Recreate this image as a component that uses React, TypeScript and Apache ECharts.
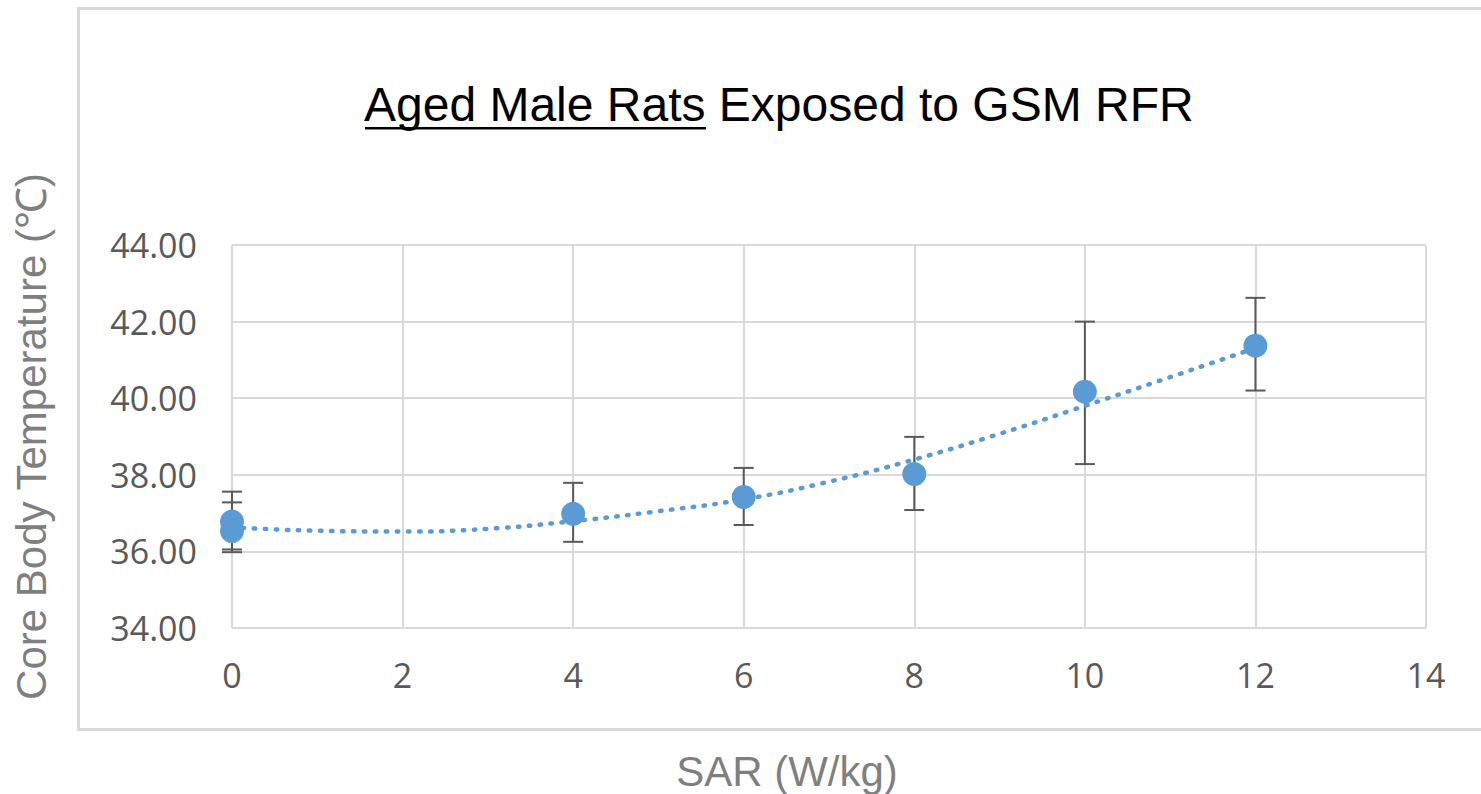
import React, { useEffect, useRef } from "react";
import * as echarts from "echarts";

const titleUnderlined = "Aged Male Rats";
const titleRest = " Exposed to GSM RFR";
const xAxisTitle = "SAR (W/kg)";
const yAxisTitle = "Core Body Temperature (℃)";

const sarValues = [0, 0, 4, 6, 8, 10, 12];
const meanTemps = [36.53, 36.78, 36.98, 37.42, 38.02, 40.17, 41.37];
const errLow = [36.05, 35.98, 36.25, 36.69, 37.08, 38.28, 40.2];
const errHigh = [37.28, 37.56, 37.79, 38.18, 38.99, 42.0, 42.62];

const trendX = [0, 1, 2, 3, 4, 5, 6, 7, 8, 9, 10, 11, 12];
const trendY = [36.63, 36.54, 36.52, 36.59, 36.79, 37.05, 37.36, 37.82, 38.4, 39.07, 39.8, 40.55, 41.31];

const xTicks = { min: 0, max: 14, interval: 2 };
const yTicks = { min: 34, max: 44, interval: 2 };

export default function App() {
  const ref = useRef<HTMLDivElement>(null);
  useEffect(() => {
    if (!ref.current) return;
    const chart = echarts.init(ref.current, null, { renderer: "svg" });
    const points = sarValues.map((x, i) => [x, meanTemps[i]]);
    const bars = sarValues.map((x, i) => [x, errLow[i], errHigh[i]]);
    const trend = trendX.map((x, i) => [x, trendY[i]]);
    const labelFont = "Open Sans";
    const titleFont = "Liberation Sans";
    chart.setOption({
      animation: false,
      backgroundColor: "#ffffff",
      grid: { left: 232, right: 55, top: 245, bottom: 166, containLabel: false },
      xAxis: {
        type: "value",
        min: xTicks.min,
        max: xTicks.max,
        interval: xTicks.interval,
        axisLine: { show: false },
        axisTick: { show: false },
        splitLine: { show: true, lineStyle: { color: "#d9d9d9", width: 2 } },
        axisLabel: { color: "#595959", fontSize: 34, fontFamily: labelFont, margin: 30 },
      },
      yAxis: {
        type: "value",
        min: yTicks.min,
        max: yTicks.max,
        interval: yTicks.interval,
        axisLine: { show: false },
        axisTick: { show: false },
        splitLine: { show: true, lineStyle: { color: "#d9d9d9", width: 2 } },
        axisLabel: {
          color: "#595959",
          fontSize: 34,
          fontFamily: labelFont,
          margin: 35,
          formatter: (v: number) => v.toFixed(2),
        },
        name: yAxisTitle,
        nameLocation: "middle",
        nameRotate: 90,
        nameGap: 180,
        nameTextStyle: { color: "#7f7f7f", fontSize: 42, fontFamily: titleFont },
      },
      graphic: [
        {
          type: "rect",
          z: -10,
          shape: { x: 78.5, y: 8.5, width: 1430, height: 721 },
          style: { fill: "none", stroke: "#d9d9d9", lineWidth: 3 },
        },
        {
          type: "text",
          x: 364,
          y: 104,
          style: {
            text: titleUnderlined + titleRest,
            fill: "#000000",
            fontSize: 48,
            fontFamily: titleFont,
            align: "left",
            verticalAlign: "middle",
          },
        },
        {
          type: "rect",
          shape: { x: 365, y: 127, width: 341, height: 2.5 },
          style: { fill: "#000000" },
        },
        {
          type: "text",
          x: 787,
          y: 771,
          style: {
            text: xAxisTitle,
            fill: "#7f7f7f",
            fontSize: 42,
            fontFamily: titleFont,
            align: "center",
            verticalAlign: "middle",
          },
        },
      ],
      series: [
        {
          type: "custom",
          z: 2,
          data: bars,
          clip: false,
          renderItem: (params: any, api: any) => {
            const x = api.value(0);
            const lo = api.coord([x, api.value(1)]);
            const hi = api.coord([x, api.value(2)]);
            const cap = 10;
            const style = { stroke: "#595959", lineWidth: 2 };
            return {
              type: "group",
              children: [
                { type: "line", shape: { x1: lo[0], y1: lo[1], x2: hi[0], y2: hi[1] }, style },
                { type: "line", shape: { x1: hi[0] - cap, y1: hi[1], x2: hi[0] + cap, y2: hi[1] }, style },
                { type: "line", shape: { x1: lo[0] - cap, y1: lo[1], x2: lo[0] + cap, y2: lo[1] }, style },
              ],
            };
          },
        },
        {
          type: "scatter",
          z: 3,
          clip: false,
          data: points,
          symbol: "circle",
          symbolSize: 24,
          itemStyle: { color: "#5b9bd5", opacity: 1 },
        },
        {
          type: "line",
          z: 4,
          data: trend,
          smooth: true,
          symbol: "none",
          clip: false,
          lineStyle: { color: "#5b9bd5", width: 4.5, type: [1.5, 9.5], cap: "round" },
        },
      ],
    });
    return () => chart.dispose();
  }, []);
  return (
    <div
      ref={ref}
      style={{ position: "fixed", left: 0, top: 0, width: 1481, height: 794, background: "#fff" }}
    />
  );
}
